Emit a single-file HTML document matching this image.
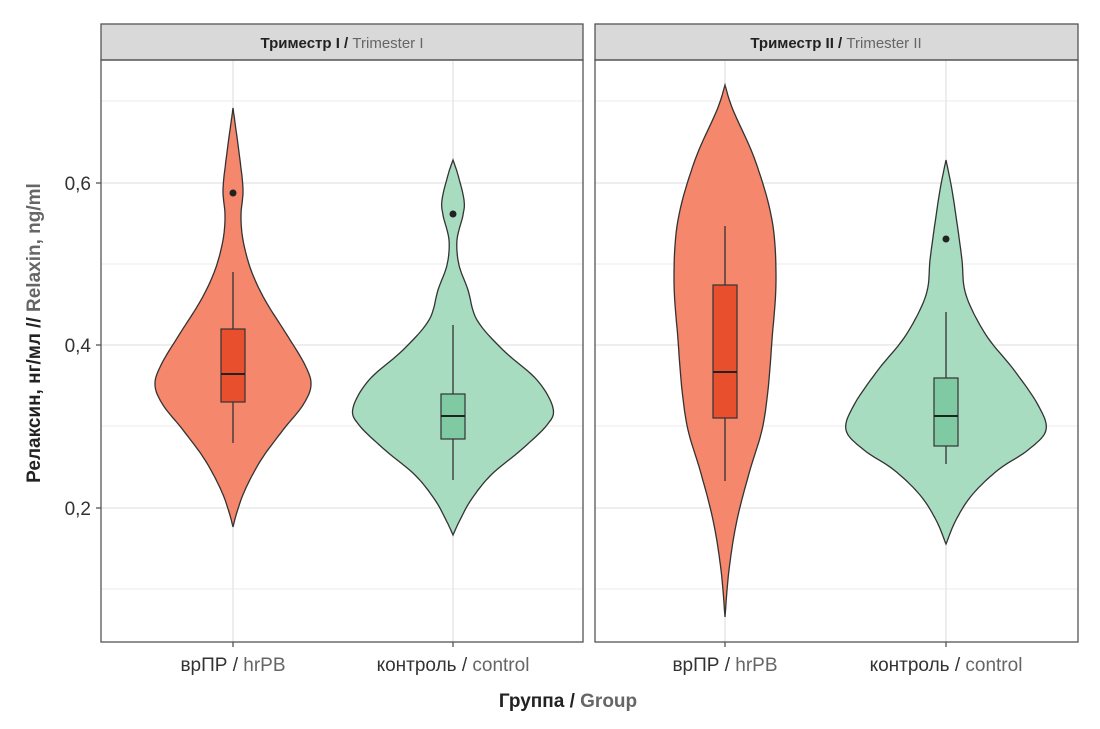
<!DOCTYPE html>
<html><head><meta charset="utf-8"><style>
html,body{margin:0;padding:0;background:#fff;width:1100px;height:729px;overflow:hidden}
text{font-family:"Liberation Sans Narrow","Liberation Sans","Noto Sans CJK SC",sans-serif}
</style></head><body>
<svg id="s" width="1100" height="729" viewBox="0 0 1100 729" xmlns="http://www.w3.org/2000/svg">
<g stroke="#ebebeb" stroke-width="1">
<line x1="101" x2="583" y1="101" y2="101"/><line x1="101" x2="583" y1="264" y2="264"/><line x1="101" x2="583" y1="426" y2="426"/><line x1="101" x2="583" y1="589" y2="589"/>
<line x1="595" x2="1078" y1="101" y2="101"/><line x1="595" x2="1078" y1="264" y2="264"/><line x1="595" x2="1078" y1="426" y2="426"/><line x1="595" x2="1078" y1="589" y2="589"/>
</g>
<g stroke="#e3e3e3" stroke-width="1.3">
<line x1="101" x2="583" y1="183" y2="183"/><line x1="101" x2="583" y1="345" y2="345"/><line x1="101" x2="583" y1="508" y2="508"/>
<line x1="595" x2="1078" y1="183" y2="183"/><line x1="595" x2="1078" y1="345" y2="345"/><line x1="595" x2="1078" y1="508" y2="508"/>
<line x1="233" x2="233" y1="60" y2="642"/><line x1="453" x2="453" y1="60" y2="642"/>
<line x1="725" x2="725" y1="60" y2="642"/><line x1="946" x2="946" y1="60" y2="642"/>
</g>
<g id="v"></g>
<rect x="101" y="24" width="482" height="36" fill="#d9d9d9" stroke="#555" stroke-width="1.3"/>
<rect x="595" y="24" width="483" height="36" fill="#d9d9d9" stroke="#555" stroke-width="1.3"/>
<rect x="101" y="60" width="482" height="582" fill="none" stroke="#555" stroke-width="1.3"/>
<rect x="595" y="60" width="483" height="582" fill="none" stroke="#555" stroke-width="1.3"/>
<text x="342" y="48" font-size="15" font-weight="bold" text-anchor="middle" fill="#222">Триместр I / <tspan fill="#666" font-weight="normal">Trimester I</tspan></text>
<text x="836" y="48" font-size="15" font-weight="bold" text-anchor="middle" fill="#222">Триместр II / <tspan fill="#666" font-weight="normal">Trimester II</tspan></text>
<g stroke="#555" stroke-width="1.3">
<line x1="96" x2="101" y1="183" y2="183"/><line x1="96" x2="101" y1="345" y2="345"/><line x1="96" x2="101" y1="508" y2="508"/>
<line x1="233" x2="233" y1="642" y2="647"/><line x1="453" x2="453" y1="642" y2="647"/>
<line x1="725" x2="725" y1="642" y2="647"/><line x1="946" x2="946" y1="642" y2="647"/>
</g>
<g font-size="19" fill="#333" text-anchor="end">
<text x="91" y="190">0,6</text><text x="91" y="352">0,4</text><text x="91" y="515">0,2</text>
</g>
<g font-size="19" fill="#333" text-anchor="middle">
<text x="233" y="671">врПР / <tspan fill="#666">hrPB</tspan></text>
<text x="453" y="671">контроль / <tspan fill="#666">control</tspan></text>
<text x="725" y="671">врПР / <tspan fill="#666">hrPB</tspan></text>
<text x="946" y="671">контроль / <tspan fill="#666">control</tspan></text>
</g>
<text x="568" y="707" font-size="19" font-weight="bold" text-anchor="middle" fill="#222">Группа / <tspan fill="#666">Group</tspan></text>
<text transform="translate(40,333) rotate(-90)" font-size="19" font-weight="bold" text-anchor="middle" fill="#222">Релаксин, нг/мл // <tspan fill="#666">Relaxin, ng/ml</tspan></text>
</svg>
<script>
var NS="http://www.w3.org/2000/svg",g=document.getElementById("v");
function el(t,a){var e=document.createElementNS(NS,t);for(var k in a)e.setAttribute(k,a[k]);g.appendChild(e);return e;}
function interp(p){var out=[];for(var i=0;i<p.length-1;i++){var p0=p[Math.max(0,i-1)],p1=p[i],p2=p[i+1],p3=p[Math.min(p.length-1,i+2)];for(var t=0;t<1;t+=0.1){var t2=t*t,t3=t2*t;var f=function(a,b,c,d){return 0.5*((2*b)+(-a+c)*t+(2*a-5*b+4*c-d)*t2+(-a+3*b-3*c+d)*t3)};out.push([f(p0[0],p1[0],p2[0],p3[0]),Math.max(0,f(p0[1],p1[1],p2[1],p3[1]))]);}}out.push(p[p.length-1]);return out;}
function violin(cx,pts,fill){var q=interp(pts),d="M";q.forEach(function(p,i){d+=(i?"L":"")+(cx+p[1]).toFixed(1)+","+p[0].toFixed(1)});for(var i=q.length-1;i>=0;i--)d+="L"+(cx-q[i][1]).toFixed(1)+","+q[i][0].toFixed(1);d+="Z";el("path",{d:d,fill:fill,stroke:"#333","stroke-width":1.3});}
function box(cx,w1,w2,b1,b2,m,fill,out){el("line",{x1:cx,x2:cx,y1:w1,y2:w2,stroke:"#333","stroke-width":1.3});el("rect",{x:cx-12,y:b1,width:24,height:b2-b1,fill:fill,stroke:"#333","stroke-width":1.2});el("line",{x1:cx-12,x2:cx+12,y1:m,y2:m,stroke:"#222","stroke-width":2});if(out)el("circle",{cx:cx,cy:out,r:3.5,fill:"#222"});}
var O="#f4876c",G="#a8dcc0";
violin(233,[[108,0],[130,3],[160,7],[190,10],[215,8],[240,10],[270,18],[300,32],[335,54],[365,72],[385,78],[405,70],[430,50],[460,28],[490,12],[512,4],[527,0]],O);
violin(453,[[160,0],[175,5],[200,11],[215,10],[240,4],[265,6],[290,15],[320,24],[350,50],[380,84],[408,100],[425,94],[450,68],[475,38],[500,18],[522,6],[535,0]],G);
violin(725,[[85,0],[110,8],[160,30],[220,47],[280,51],[340,47],[390,43],[430,37],[470,25],[520,12],[570,4],[617,0]],O);
violin(946,[[160,0],[190,6],[230,12],[260,16],[295,20],[335,40],[370,68],[405,92],[430,100],[450,82],[470,52],[495,26],[520,10],[544,0]],G);
box(233,272,443,329,402,374,"#e8502d",193);
box(453,325,480,394,439,416,"#7fcaa3",214);
box(725,226,481,285,418,372,"#e8502d",null);
box(946,312,464,378,446,416,"#7fcaa3",239);
</script>
</body></html>
